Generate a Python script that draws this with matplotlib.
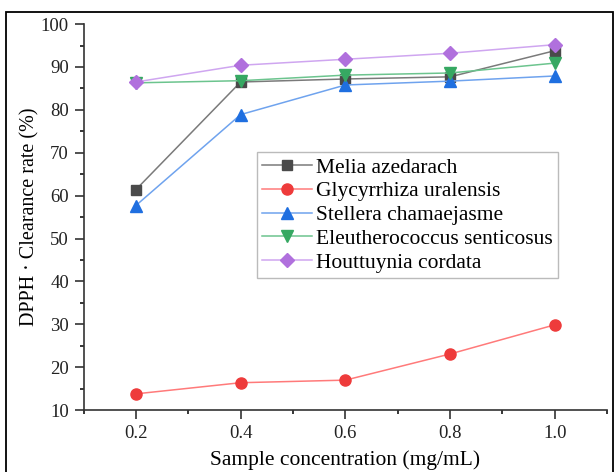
import matplotlib.pyplot as plt
from matplotlib.patches import Rectangle

plt.rcParams['font.family'] = ['Liberation Serif', 'DejaVu Serif']

conc = [0.2, 0.4, 0.6, 0.8, 1.0]
melia = [61.4, 86.5, 87.2, 87.7, 93.8]
glycyrrhiza = [13.8, 16.4, 17.0, 23.1, 29.9]
stellera = [57.7, 78.9, 85.8, 86.7, 87.9]
eleutherococcus = [86.3, 86.8, 88.1, 88.6, 90.9]
houttuynia = [86.5, 90.4, 91.8, 93.2, 95.2]

names = ['Melia azedarach', 'Glycyrrhiza uralensis', 'Stellera chamaejasme',
         'Eleutherococcus senticosus', 'Houttuynia cordata']
series = [melia, glycyrrhiza, stellera, eleutherococcus, houttuynia]
marker_colors = ['#4a4a4a', '#ee3b3b', '#1f6fe0', '#36a862', '#b070dd']
line_colors = ['#7a7a7a', '#ff7a7a', '#6fa3ee', '#6cc48e', '#cfa6f0']
markers = ['s', 'o', '^', 'v', 'D']
sizes = [7, 8, 8.5, 8.5, 7.5]

fig = plt.figure(figsize=(6.14, 4.72), dpi=100)
ax = fig.add_axes([0.136, 0.131, 0.853, 0.818])

for y, name, mc, lc, m, s in zip(series, names, marker_colors, line_colors, markers, sizes):
    ax.plot(conc, y, color=lc, lw=1.1, marker=m, markersize=s,
            markerfacecolor=mc, markeredgecolor=mc, label=name)

ax.set_xlim(0.1, 1.1)
ax.set_ylim(10, 100)
ax.set_xticks([0.2, 0.4, 0.6, 0.8, 1.0])
ax.set_xticklabels(['0.2', '0.4', '0.6', '0.8', '1.0'])
ax.set_xticks([0.1, 0.3, 0.5, 0.7, 0.9, 1.1], minor=True)
ax.set_yticks(range(10, 101, 10))
ax.set_yticks(range(15, 100, 10), minor=True)
ax.tick_params(which='major', length=6.5, width=1.1, labelsize=13.5, colors='#222222', pad=4)
ax.tick_params(which='minor', length=3, width=1.1)
for side in ['top', 'right']:
    ax.spines[side].set_visible(False)
for side in ['left', 'bottom']:
    ax.spines[side].set_linewidth(1.2)
    ax.spines[side].set_color('#333333')

ax.set_xlabel('Sample concentration (mg/mL)', fontsize=15.5, labelpad=6)
ax.set_ylabel('DPPH · Clearance rate (%)', fontsize=14.5, labelpad=1)

leg = ax.legend(loc='upper left', bbox_to_anchor=(0.331, 0.668), fontsize=15.5,
                frameon=True, fancybox=False, edgecolor='#aaaaaa',
                handlelength=2.3, handletextpad=0.2, labelspacing=0.17,
                borderpad=0.25, borderaxespad=0)
leg.get_frame().set_linewidth(1.0)

fig.patches.append(Rectangle((0.01, -0.1), 0.988, 1.075, transform=fig.transFigure,
                             fill=False, edgecolor='black', lw=1.3, clip_on=False))

fig.savefig('out.png', dpi=100)
